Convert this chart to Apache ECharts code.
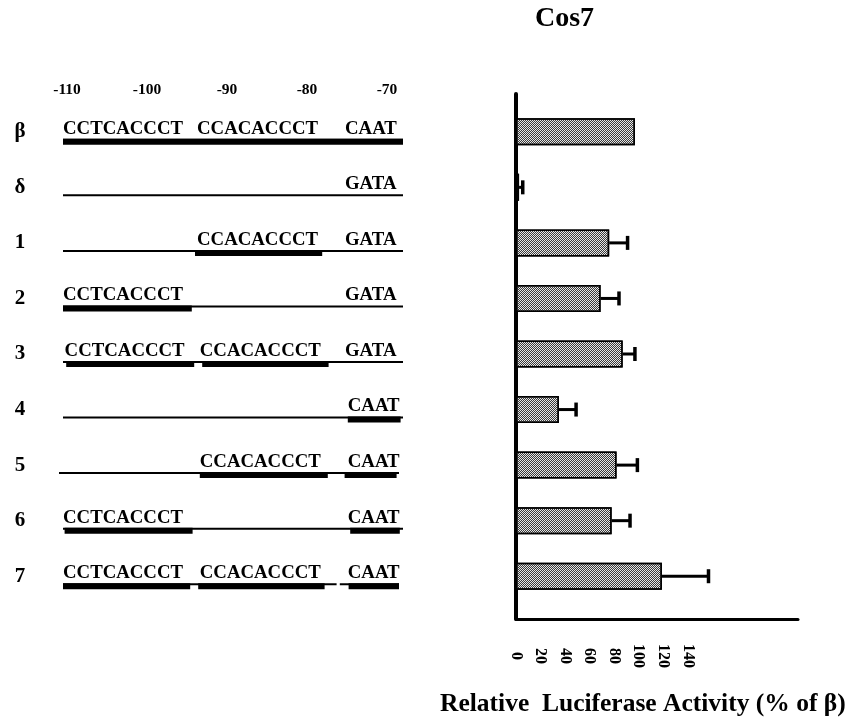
<!DOCTYPE html>
<html><head><meta charset="utf-8">
<script src="https://cdn.jsdelivr.net/npm/echarts@6/dist/echarts.min.js"></script>
<style>html,body{margin:0;padding:0;background:#fff}#c{width:851px;height:723px}</style>
</head><body><div id="c"></div>
<script>
// ---- data ----
const rowLabels = ['β', 'δ', '1', '2', '3', '4', '5', '6', '7'];
const activity = [97, 2.5, 76, 69, 87, 35, 82, 78, 119];
const activityErr = [0, 3, 15, 15, 10, 14, 17, 15, 38];
const activityTicks = [0, 20, 40, 60, 80, 100, 120, 140];
const positionTicks = [-110, -100, -90, -80, -70];
// [row, start, end] in promoter position units
const thinSegments = [
  [0, -110.5, -68], [1, -110.5, -68], [2, -110.5, -68], [3, -110.5, -68],
  [4, -110.5, -68], [5, -110.5, -68], [6, -111, -68.5], [7, -110.5, -68],
  [8, -110.5, -76.3], [8, -75.9, -68.5]
];
const thickSegments = [
  [0, -110.5, -68],
  [2, -94, -78.1],
  [3, -110.5, -94.4],
  [4, -110.1, -94.1], [4, -93.1, -77.3],
  [5, -74.9, -68.3],
  [6, -93.4, -77.4], [6, -75.3, -68.8],
  [7, -110.3, -94.3], [7, -74.6, -68.4],
  [8, -110.5, -94.6], [8, -93.6, -77.8], [8, -74.8, -68.5]
];
// [row, start, text]
const sequenceLabels = [
  [0, -110.5, 'CCTCACCCT'], [0, -93.75, 'CCACACCCT'], [0, -75.25, 'CAAT'],
  [1, -75.25, 'GATA'],
  [2, -93.75, 'CCACACCCT'], [2, -75.25, 'GATA'],
  [3, -110.5, 'CCTCACCCT'], [3, -75.25, 'GATA'],
  [4, -110.3, 'CCTCACCCT'], [4, -93.4, 'CCACACCCT'], [4, -75.25, 'GATA'],
  [5, -74.9, 'CAAT'],
  [6, -93.4, 'CCACACCCT'], [6, -74.9, 'CAAT'],
  [7, -110.5, 'CCTCACCCT'], [7, -74.9, 'CAAT'],
  [8, -110.5, 'CCTCACCCT'], [8, -93.4, 'CCACACCCT'], [8, -74.9, 'CAAT']
];

// ---- chart ----
const FONT = 'Liberation Serif';
const LINE_OFF = 8;
const chart = echarts.init(document.getElementById('c'), null, {renderer: 'canvas'});

const segData = thinSegments.map(s => [s[1], s[2], s[0], 0])
  .concat(thickSegments.map(s => [s[1], s[2], s[0], 1]));

chart.setOption({
  animation: false,
  backgroundColor: '#fff',
  title: [
    {text: 'Cos7', left: 535, top: 5, padding: 0,
     textStyle: {fontFamily: FONT, fontWeight: 'bold', fontSize: 28, color: '#000'}},
    {text: 'Relative  Luciferase Activity (% of β)', left: 440, top: 691, padding: 0,
     textStyle: {fontFamily: FONT, fontWeight: 'bold', fontSize: 25.5, color: '#000'}}
  ],
  grid: [
    {left: 516, top: 104, width: 282, height: 500},
    {left: 516, top: 94, width: 282, height: 525},
    {left: 67, top: 104, width: 336, height: 500}
  ],
  xAxis: [
    {gridIndex: 0, type: 'value', min: 0, max: 230, show: false},
    {gridIndex: 1, type: 'value', min: 0, max: 230, interval: 20,
     axisLine: {show: true, lineStyle: {color: '#000', width: 3}},
     axisTick: {show: false}, splitLine: {show: false},
     axisLabel: {customValues: activityTicks, rotate: -90, align: 'center', verticalAlign: 'middle',
       margin: 37, fontFamily: FONT, fontWeight: 'bold', fontSize: 16, color: '#000'}},
    {gridIndex: 2, type: 'value', min: -110, max: -68, position: 'top',
     axisLine: {show: false}, axisTick: {show: false}, splitLine: {show: false},
     axisLabel: {customValues: positionTicks, margin: 6, fontFamily: FONT, fontWeight: 'bold',
       fontSize: 15.5, color: '#000'}}
  ],
  yAxis: [
    {gridIndex: 0, type: 'category', data: rowLabels, inverse: true, show: false},
    {gridIndex: 1, type: 'value', min: 0, max: 1,
     axisLine: {show: true, lineStyle: {color: '#000', width: 4}},
     axisTick: {show: false}, axisLabel: {show: false}, splitLine: {show: false}},
    {gridIndex: 2, type: 'category', data: rowLabels, inverse: true,
     axisLine: {show: false}, axisTick: {show: false}, splitLine: {show: false},
     axisLabel: {margin: 47, align: 'center', fontFamily: FONT, fontWeight: 'bold',
       fontSize: 21, color: '#000'}}
  ],
  series: [
    {type: 'bar', xAxisIndex: 0, yAxisIndex: 0, data: activity, barWidth: 27,
     itemStyle: {color: '#e6e6e6', borderColor: '#000', borderWidth: 1.5,
       decal: {symbol: 'rect', symbolSize: 1, dashArrayX: [[1, 1], [0, 1, 1, 0]],
         dashArrayY: [1, 0], color: '#3a3a3a', rotation: 0}}},
    {type: 'custom', xAxisIndex: 0, yAxisIndex: 0,
     data: activity.map((v, i) => [v, i, activityErr[i]]).filter(d => d[2] > 0),
     encode: {x: 0, y: 1},
     renderItem: function (params, api) {
       const v = api.value(0), r = api.value(1), e = api.value(2);
       const a = api.coord([v, r]);
       const b = api.coord([v + e, r]);
       return {type: 'group', children: [
         {type: 'line', shape: {x1: a[0], y1: a[1], x2: b[0], y2: b[1]},
          style: {stroke: '#000', lineWidth: 3}},
         {type: 'line', shape: {x1: b[0], y1: a[1] - 7, x2: b[0], y2: a[1] + 7},
          style: {stroke: '#000', lineWidth: 3.5}}
       ]};
     }},
    {type: 'custom', xAxisIndex: 2, yAxisIndex: 2, data: segData, clip: false,
     encode: {x: [0, 1], y: 2},
     renderItem: function (params, api) {
       const s = api.coord([api.value(0), api.value(2)]);
       const e = api.coord([api.value(1), api.value(2)]);
       const thick = api.value(3) === 1;
       const y = s[1] + LINE_OFF;
       return {type: 'rect',
         shape: {x: s[0], y: y - 1, width: e[0] - s[0], height: thick ? 6 : 2},
         style: {fill: '#000'}};
     }},
    {type: 'custom', xAxisIndex: 2, yAxisIndex: 2, clip: false,
     data: sequenceLabels.map(s => [s[1], s[0]]),
     encode: {x: 0, y: 1},
     renderItem: function (params, api) {
       const p = api.coord([api.value(0), api.value(1)]);
       return {type: 'text', x: p[0], y: p[1] + LINE_OFF - 11,
         style: {text: sequenceLabels[params.dataIndex][2], fill: '#000',
           font: 'bold 18.8px "' + FONT + '"', textAlign: 'left', textVerticalAlign: 'middle'}};
     }}
  ]
});
</script></body></html>
